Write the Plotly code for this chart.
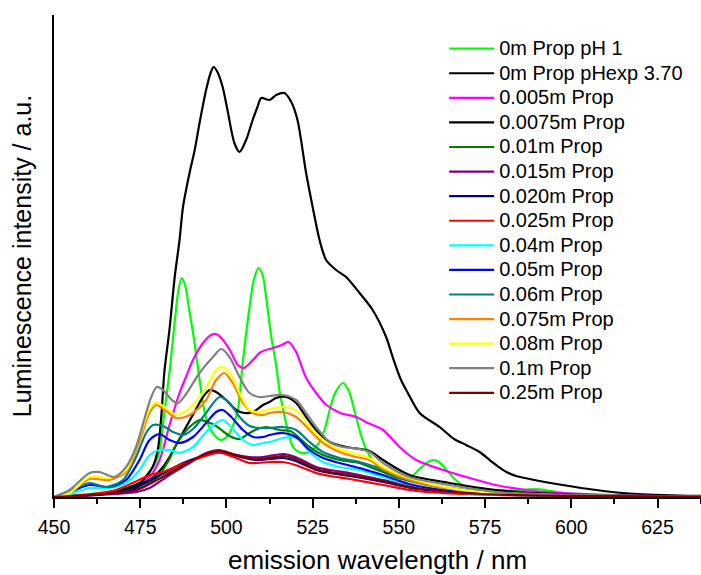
import plotly.graph_objects as go

# ---- data: (emission wavelength / nm, luminescence intensity / a.u.) ----
GREEN_PH1 = [(450,0),(460,3),(468,6),(473,10),(476,16),(478,26),(479.5,35),(480.6,45),(482,85),(483.5,125),(485,175),(486,205),(487,219),(488,212),(489.3,185),(490.5,160),(491.5,135),(492.5,110),(493.5,88),(495,70),(497,60),(498.5,57),(500.5,62),(502,72),(503.3,87),(504.8,137),(506.7,190),(508,218),(509.3,229),(510.5,222),(511.5,200),(513,160),(514.4,132),(515.4,106),(516.4,88),(517.8,66),(519.3,50),(521,45),(523,44),(525,47),(527,55),(528.5,68),(530,88),(531.5,104),(533.8,114),(535.5,106),(537.2,85),(539,62),(540.5,48),(542.5,36),(545,27),(548,21),(551,18),(553.5,20),(556,28),(558.5,35),(560,37),(562,34),(564,26),(566.5,17),(569,11),(573,8),(578,6.5),(583,6.5),(587,7.5),(590,8),(593,6.5),(598,4),(605,2.5),(615,1.5),(625,0.8),(640,0.3)]
BLACK_PHEXP = [(450,0),(460,1.5),(466,4),(471,9),(474.8,14),(477,22),(478.6,30),(480.1,47),(481.1,80),(482,125),(483.5,168),(485,220),(486.4,257),(487.4,290),(489.3,324),(490.8,347),(492.2,374),(494.1,407),(495.5,425),(496.3,430),(497.4,425),(498.9,410),(500.3,387),(502.3,354),(503.8,345),(505.7,357),(507.6,377),(509,390),(510.1,399),(512.5,397),(514.4,402),(516.8,404),(518.8,395),(520.6,377),(523.1,324),(525,290),(527,257),(528.9,237),(531.8,227),(534.7,220),(538.6,204),(542.4,187),(546.3,160),(548.2,140),(550.5,118),(552.6,104),(556,84),(561.8,70),(566,58),(569.5,52),(573.4,45),(576.3,37),(578.2,32),(581.2,25),(584,21),(587.9,18),(597.5,12),(607.2,7),(616.9,3.5),(631.4,1.5),(640,1)]
MAGENTA_0005 = [(450,0),(460,2),(466,4),(470,6),(474,10),(477.7,20),(480.6,37),(483.5,72),(486.4,104),(488.5,122),(490.3,137),(493.2,154),(495.6,162),(497,163),(498.5,159),(501,147),(503.3,132),(505,129),(507.7,137),(510,145),(513.5,149),(516,152),(518,155),(520.2,145),(523,120),(526,104),(529,92),(533,84),(537.6,80),(541,74),(545.4,67),(550.2,50),(555,37),(562.8,27),(569.5,20),(578,12),(585,8),(592.7,5),(600,3.5),(612,2),(625,1),(640,0.5)]
BLACK_00075 = [(450,0),(460,2),(467,5),(472,9),(475,13),(477.7,17),(479.5,22),(481.6,30),(483.5,40),(485.4,52),(488.3,70),(491.2,88),(493.2,100),(495.1,107),(497,105),(499.9,97),(502.8,87),(505.2,84),(507.7,85),(510.6,92),(512.5,95),(514.4,99),(517.3,100),(520.2,94),(523.1,80),(526,67),(529.9,55),(534.7,50),(541.5,46),(545.4,37),(553.1,22),(564.7,14),(578.2,7),(590,4),(605,2),(620,1),(640,0.5)]
DKGREEN_001 = [(450,0),(460,2),(470,5),(476,10),(480,20),(483,35),(485.4,52),(487.5,63),(489.3,70),(492.2,77),(494.5,75),(497,71),(500.9,61),(503.8,58),(506.7,64),(509,68),(511.5,70),(515.4,67),(518.5,66),(520.2,62),(524.1,50),(528,42),(532.8,37),(538.6,34),(541.5,30),(545.4,25),(553,16),(565,8),(578,4),(590,2.5),(605,1.5),(640,0.5)]
PURPLE_0015 = [(450,0),(460,1.5),(468,3),(474,5),(477.7,9),(483.5,22),(489.3,34),(494.1,44),(498,47),(501.8,43),(506.7,40),(510.6,40),(516.4,43),(520,40),(526,30),(530,27),(535.7,24),(545.4,17),(555,10),(565,6),(578,3),(595,1.5),(640,0.3)]
NAVY_0020 = [(450,0),(460,2),(468,4),(473,8),(477.7,16),(482,24),(487.4,34),(494.1,42),(498,45),(502.8,41),(508.7,37),(512.5,38),(516.4,39),(520,36),(526,27),(530,24),(535.7,21),(545.4,15),(555,8),(565,5),(578,2.5),(595,1.2),(640,0.3)]
RED_0025 = [(450,0),(460,2.5),(468,7),(472.8,14),(477.7,22),(481.6,25),(486.4,32),(492.2,39),(497,44),(498.5,44),(502.8,39),(506.7,34),(512.5,35),(516.4,35),(520,32),(526,24),(530,21),(535.7,18),(545.4,12),(555,6),(565,3.5),(578,2),(595,1),(640,0.3)]
CYAN_004 = [(450,0),(454.5,3),(460.3,9),(466.1,9),(470.9,14),(474.8,27),(477.7,42),(480.6,47),(483.5,47),(486.4,44),(490.3,50),(494.1,65),(497,74),(498.9,77),(501.4,70),(504.8,57),(507.7,52),(510.6,54),(512.5,55),(516.4,59),(519.3,60),(521.2,57),(524.1,45),(528,35),(532.8,30),(538.6,27),(541.5,24),(545.4,20),(553,12),(565,5),(578,2.5),(595,1.2),(640,0.3)]
BLUE_005 = [(450,0),(454.5,5),(460.3,12),(466.1,10),(470.9,17),(474.8,37),(477.7,57),(480.6,63),(483.5,57),(486.4,54),(490.3,60),(494.1,74),(497,85),(498.9,87),(501.4,80),(504.8,67),(507.7,60),(510.6,60),(512.5,62),(516.4,64),(520.2,60),(524.1,47),(528,39),(532.8,34),(538.6,29),(541.5,26),(545.4,22),(553,13),(565,6),(578,3),(595,1.5),(640,0.3)]
TEAL_006 = [(450,0),(454.5,6),(460.3,14),(465.1,10),(470,17),(473.8,40),(476.7,64),(478.7,72),(481.6,71),(484.5,65),(487.4,62),(490.3,68),(494.1,84),(498,100),(500.9,94),(503.8,80),(506.7,71),(509.6,69),(512.5,69),(516.4,70),(520.2,67),(524.1,55),(528,45),(532.8,39),(538.6,35),(541.5,32),(545.4,27),(553,17),(565,9),(578,4),(595,2),(640,0.4)]
ORANGE_0075 = [(450,0),(454.5,4),(460.3,18),(466.1,17),(470.9,25),(474.8,56),(477.7,84),(479.6,92),(482.5,86),(485.4,79),(488,80),(490.3,84),(494.1,97),(497,117),(499.4,124),(501.8,114),(504.8,94),(507.7,84),(510.6,82),(512.5,84),(516.4,85),(520.2,80),(524.1,67),(528,54),(532.8,45),(537.6,40),(541.5,37),(545.4,28),(553,17),(565,8),(578,4),(595,2),(640,0.4)]
YELLOW_008 = [(450,0),(454.5,4),(460.3,20),(466.1,19),(470.9,27),(474.8,60),(477.7,88),(479.6,95),(482,90),(485.4,82),(488.3,86),(490.5,93),(493.2,104),(497,127),(498.9,130),(501.4,122),(503.8,104),(506.7,87),(509.6,85),(512.5,88),(517.3,90),(521.2,84),(524.1,70),(528,57),(531.8,49),(537.6,43),(541.5,39),(545.4,30),(553.1,19),(564.7,9),(578.2,4),(595,2),(640,0.4)]
GRAY_01 = [(450,0),(454.5,7),(460.3,24),(463.2,25),(467.5,20),(470.9,30),(473.8,50),(476.7,84),(478.2,100),(479.8,110),(481.6,107),(484.5,96),(486,94),(488.3,103),(492.2,124),(496.1,140),(498.5,148),(500.9,140),(503.8,120),(506.7,104),(509.6,100),(512.5,101),(516.4,102),(520.2,97),(523.1,84),(526,70),(529.9,55),(533.8,50),(538.6,48),(541.5,45),(545.4,34),(553.1,20),(564.7,12),(578.2,5),(590,3),(605,2),(620,1),(640,0.5)]
DKRED_025 = [(450,0),(460,2),(468,4),(474,7),(477.7,13),(483,23),(488,33),(494,43),(498,46),(502.8,42),(508,38),(512.5,39),(516.4,41),(520,38),(526,28),(530,25),(535.7,22),(545.4,16),(555,9),(565,5),(578,2.5),(595,1.2),(640,0.3)]

SERIES_NAMES = ["0m Prop pH 1", "0m Prop pHexp 3.70", "0.005m Prop", "0.0075m Prop",
                "0.01m Prop", "0.015m Prop", "0.020m Prop", "0.025m Prop", "0.04m Prop",
                "0.05m Prop", "0.06m Prop", "0.075m Prop", "0.08m Prop", "0.1m Prop", "0.25m Prop"]
SERIES_DATA = [GREEN_PH1, BLACK_PHEXP, MAGENTA_0005, BLACK_00075, DKGREEN_001, PURPLE_0015,
               NAVY_0020, RED_0025, CYAN_004, BLUE_005, TEAL_006, ORANGE_0075, YELLOW_008,
               GRAY_01, DKRED_025]
SERIES_COLORS = ["#00FF00", "#000000", "#FF00FF", "#000000", "#008000", "#800080", "#000080",
                 "#FF0000", "#00FFFF", "#0000FF", "#008080", "#FF8000", "#FFFF00", "#808080",
                 "#800000"]
X_TICKS = [450, 475, 500, 525, 550, 575, 600, 625]

FONT = "Liberation Sans, Arial, sans-serif"

fig = go.Figure()
for name, data, color in zip(SERIES_NAMES, SERIES_DATA, SERIES_COLORS):
    xs = [p[0] for p in data]
    ys = [p[1] for p in data]
    fig.add_trace(go.Scatter(
        x=xs, y=ys, mode="lines",
        name='<span style="font-size:20px">' + name + '</span>',
        line=dict(color=color, width=2.2, shape="spline", smoothing=0.8),
    ))

fig.update_layout(
    width=701, height=575,
    margin=dict(l=54, r=0, t=15, b=78),
    paper_bgcolor="white", plot_bgcolor="white",
    font=dict(family=FONT, color="black"),
    showlegend=True,
    legend=dict(
        x=0.603, xanchor="left", y=0.966, yanchor="top",
        font=dict(size=16.6, family=FONT, color="black"),
        bgcolor="rgba(0,0,0,0)", borderwidth=0, itemwidth=45,
        tracegroupgap=0,
    ),
    xaxis=dict(
        range=[450, 637.6], tickvals=X_TICKS, ticktext=[str(t) for t in X_TICKS],
        showline=True, linecolor="black", linewidth=1.5, mirror=False,
        ticks="outside", ticklen=9, tickwidth=1.5, tickcolor="black",
        ticklabelstandoff=3,
        minor=dict(dtick=12.5, tick0=450, ticks="outside", ticklen=5, tickwidth=1.5, tickcolor="black"),
        showgrid=False, zeroline=False,
        tickfont=dict(size=19.5, family=FONT),
        title=dict(text="emission wavelength / nm", font=dict(size=26, family=FONT), standoff=20),
    ),
    yaxis=dict(
        range=[0, 482], showline=True, linecolor="black", linewidth=1.5,
        showticklabels=False, ticks="", showgrid=False, zeroline=False,
        title=dict(text="Luminescence intensity / a.u.", font=dict(size=25, family=FONT), standoff=14),
    ),
)

fig.write_html("out.html")
